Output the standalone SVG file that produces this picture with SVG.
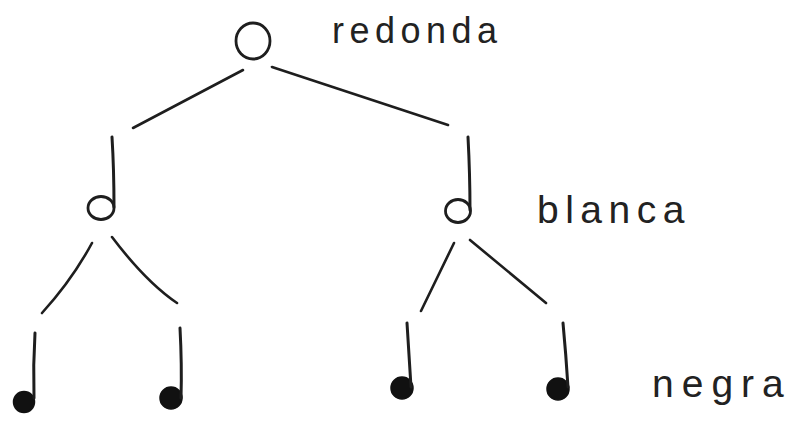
<svg xmlns="http://www.w3.org/2000/svg" width="792" height="423" viewBox="0 0 792 423">
<style>
.ln{stroke:#1e1e1e;stroke-width:2.6;stroke-linecap:round;fill:none}
.open{stroke:#1e1e1e;stroke-width:2.8;fill:none}
.stem{stroke:#1e1e1e;stroke-width:3;stroke-linecap:round;fill:none}
.fill{fill:#111;stroke:#111;stroke-width:1.5}
.lbl{font-family:"Liberation Sans",Arial,sans-serif;fill:#222}
</style>
<rect width="792" height="423" fill="#fff"/>
<g id="connectors">
<line class="ln" x1="243" y1="70" x2="133" y2="128"/>
<line class="ln" x1="272" y1="67" x2="448" y2="125"/>
<path class="ln" d="M92,243 Q72,280 42,313"/>
<path class="ln" d="M112,237 Q146,282 177,303"/>
<line class="ln" x1="454" y1="243" x2="421" y2="311"/>
<line class="ln" x1="470" y1="240" x2="546" y2="303"/>
</g>
<g id="redonda">
<ellipse class="open" cx="253" cy="41" rx="17" ry="18"/>
<text class="lbl" x="332" y="43" font-size="36" letter-spacing="5.5">redonda</text>
</g>
<g id="blanca-left">
<ellipse class="open" cx="101" cy="208" rx="13" ry="11.5"/>
<path class="stem" d="M112,137 Q114,170 114,207"/>
</g>
<g id="blanca-right">
<ellipse class="open" cx="458" cy="211" rx="12.5" ry="11.5"/>
<path class="stem" d="M468,137 Q470,175 470,210"/>
<text class="lbl" x="537" y="223" font-size="39" letter-spacing="6.5">blanca</text>
</g>
<g id="negra-1">
<circle class="fill" cx="24" cy="402" r="10.5"/>
<path class="stem" d="M35,333 Q33,365 34,398"/>
</g>
<g id="negra-2">
<circle class="fill" cx="171" cy="398" r="11"/>
<path class="stem" d="M180,328 Q182,365 181,398"/>
</g>
<g id="negra-3">
<circle class="fill" cx="402" cy="388" r="11"/>
<path class="stem" d="M407,323 Q409,355 411,387"/>
</g>
<g id="negra-4">
<circle class="fill" cx="558" cy="389" r="11"/>
<path class="stem" d="M563,323 Q566,355 568,387"/>
<text class="lbl" x="652" y="397" font-size="39" letter-spacing="8">negra</text>
</g>
</svg>
